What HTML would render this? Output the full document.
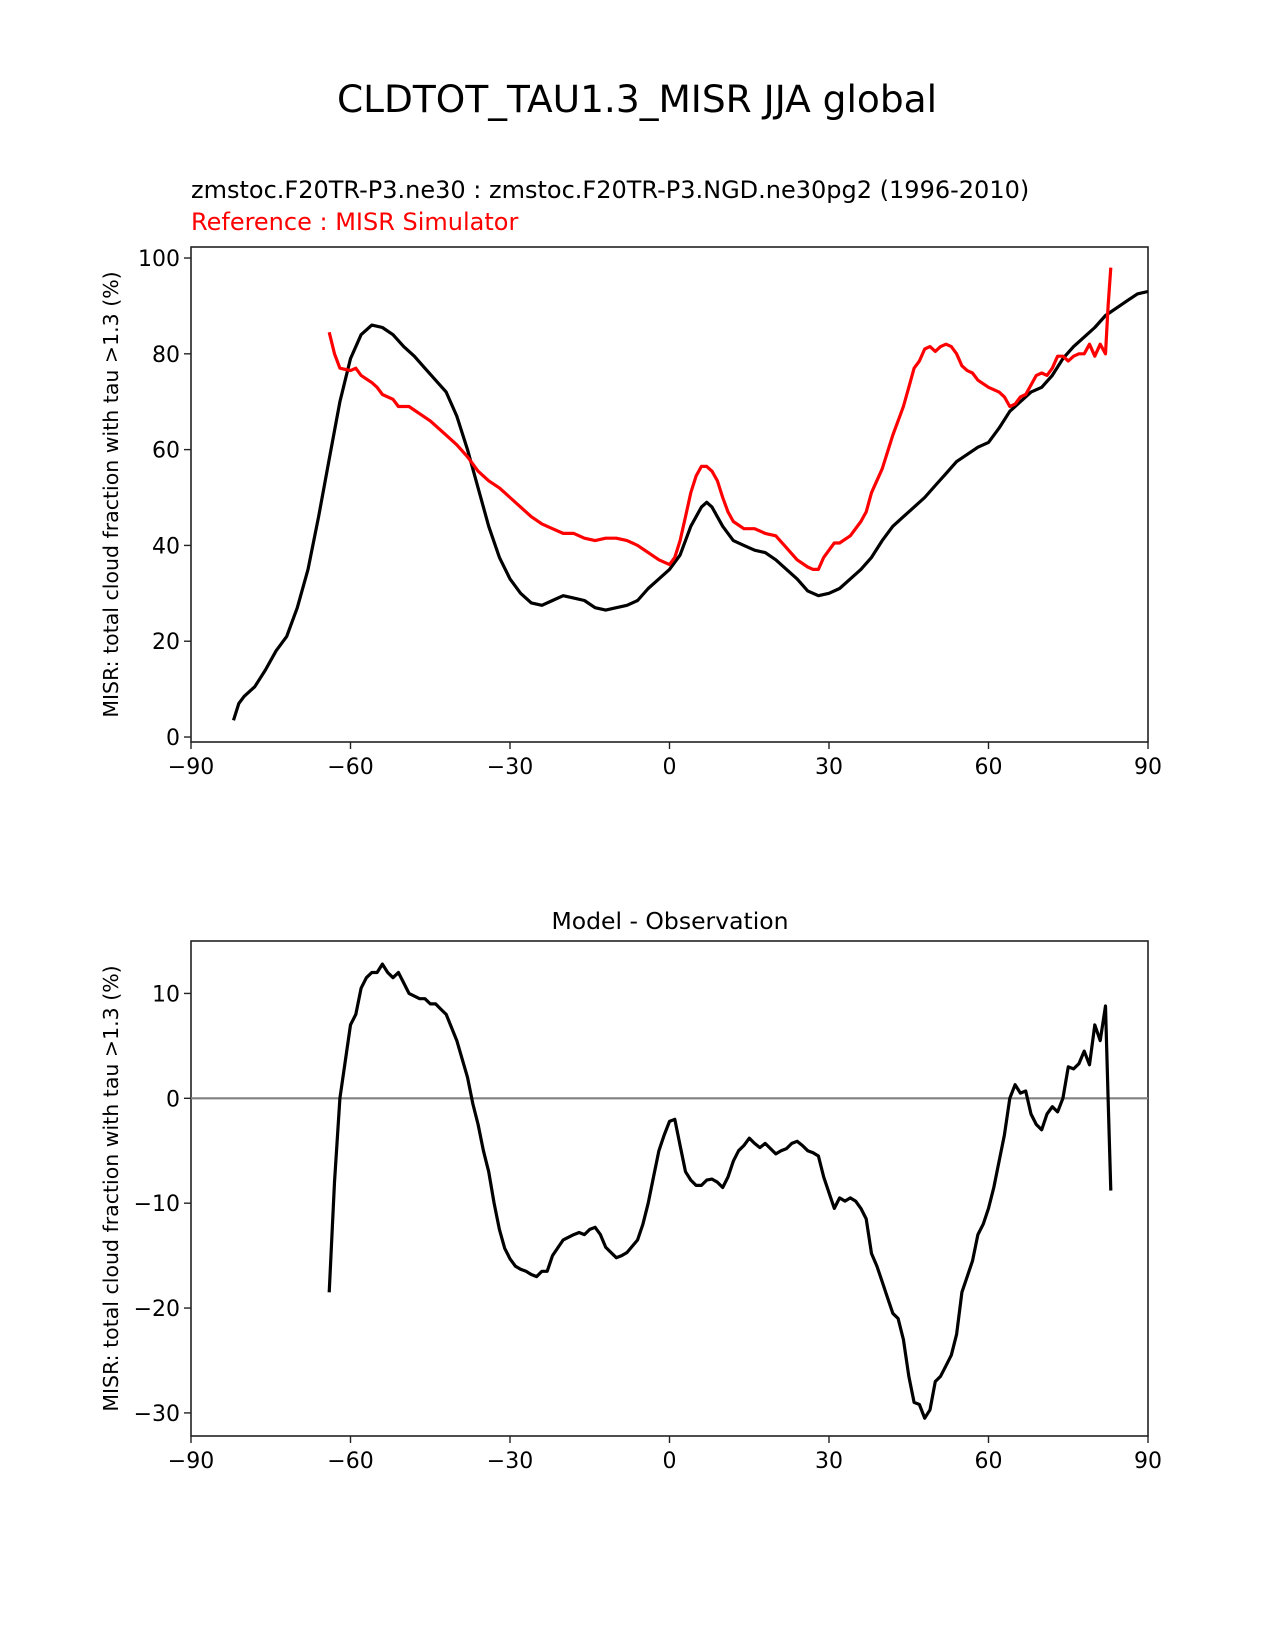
<!DOCTYPE html>
<html><head><meta charset="utf-8"><style>
body{margin:0;background:#fff}
svg{display:block;font-family:"DejaVu Sans","Liberation Sans",sans-serif}
</style></head><body>
<svg id="c" width="1275" height="1650" xmlns="http://www.w3.org/2000/svg">
<text x="637" y="112" font-size="37.5" text-anchor="middle">CLDTOT_TAU1.3_MISR JJA global</text>
<text x="191" y="198" font-size="24">zmstoc.F20TR-P3.ne30 : zmstoc.F20TR-P3.NGD.ne30pg2 (1996-2010)</text>
<text x="191" y="230" font-size="24" fill="red">Reference : MISR Simulator</text>
<text x="670" y="929" font-size="23.5" text-anchor="middle">Model - Observation</text>
<g id="g1"></g><g id="g2"></g>
</svg>
<script>
const latM=[-82,-81,-80,-78,-76,-74,-72,-70,-68,-66,-64,-62,-60,-58,-56,-54,-52,-50,-48,-46,-44,-42,-40,-38,-36,-34,-32,-30,-28,-26,-24,-22,-20,-18,-16,-14,-12,-10,-8,-6,-4,-2,0,2,4,6,7,8,10,12,14,16,18,20,22,24,26,28,30,32,34,36,38,40,42,44,46,48,50,52,54,56,58,60,62,64,66,68,70,72,74,76,78,80,82,84,86,88,90];
const valM=[3.5,7,8.5,10.5,14,18,21,27,35,46,58,70,79,84,86,85.5,84,81.5,79.5,77,74.5,72,67,60,52,44,37.5,33,30,28,27.5,28.5,29.5,29,28.5,27,26.5,27,27.5,28.5,31,33,35,38,44,48,49,48,44,41,40,39,38.5,37,35,33,30.5,29.5,30,31,33,35,37.5,41,44,46,48,50,52.5,55,57.5,59,60.5,61.5,64.5,68,70,72,73,75.5,79,81.5,83.5,85.5,88,89.5,91,92.5,93];
const latR=[-64,-63,-62,-60,-59,-58,-56,-55,-54,-52,-51,-49,-47,-45,-44,-42,-40,-38,-36,-34,-32,-30,-28,-26,-24,-22,-20,-18,-16,-14,-12,-10,-8,-6,-4,-2,0,1,2,3,4,5,6,7,8,9,10,11,12,14,16,18,20,22,24,26,27,28,29,30,31,32,34,36,37,38,40,42,44,45,46,47,48,49,50,51,52,53,54,55,56,57,58,60,61,62,63,64,65,66,67,68,69,70,71,72,73,74,75,76,77,78,79,80,81,82,82.5,83];
const valR=[84.5,80,77,76.5,77,75.5,74,73,71.5,70.5,69,69,67.5,66,65,63,61,58.5,55.5,53.5,52,50,48,46,44.5,43.5,42.5,42.5,41.5,41,41.5,41.5,41,40,38.5,37,36,37.5,41,46,51,54.5,56.5,56.5,55.5,53.5,50,47,45,43.5,43.5,42.5,42,39.5,37,35.5,35,35,37.5,39,40.5,40.5,42,45,47,51,56,63,69,73,77,78.5,81,81.5,80.5,81.5,82,81.5,80,77.5,76.5,76,74.5,73,72.5,72,71,69,69.5,71,71.5,73.5,75.5,76,75.5,77,79.5,79.5,78.5,79.5,80,80,82,79.5,82,80,90,98];
const latD=[-64,-63,-62,-61,-60,-59,-58,-57,-56,-55,-54,-53,-52,-51,-50,-49,-47,-46,-45,-44,-43,-42,-40,-38,-37,-36,-35,-34,-33,-32,-31,-30,-29,-28,-27,-26,-25,-24,-23,-22,-20,-18,-17,-16,-15,-14,-13,-12,-11,-10,-9,-8,-6,-5,-4,-3,-2,-1,0,1,2,3,4,5,6,7,8,9,10,11,12,13,14,15,16,17,18,19,20,21,22,23,24,25,26,27,28,29,30,31,32,33,34,35,36,37,38,39,40,41,42,43,44,45,46,47,48,49,50,51,52,53,54,55,56,57,58,59,60,61,62,63,64,65,66,67,68,69,70,71,72,73,74,75,76,77,78,79,80,81,82,82.5,83];
const valD=[-18.5,-8,0,3.5,7,8,10.5,11.5,12,12,12.8,12,11.5,12,11,10,9.5,9.5,9,9,8.5,8,5.5,2,-0.5,-2.5,-5,-7,-10,-12.5,-14.3,-15.3,-16,-16.3,-16.5,-16.8,-17,-16.5,-16.5,-15,-13.5,-13,-12.8,-13,-12.5,-12.3,-13,-14.2,-14.7,-15.2,-15,-14.7,-13.5,-12,-10,-7.5,-5,-3.5,-2.2,-2,-4.5,-7,-7.8,-8.3,-8.3,-7.8,-7.7,-8,-8.5,-7.5,-6,-5,-4.5,-3.8,-4.3,-4.7,-4.3,-4.8,-5.3,-5,-4.8,-4.3,-4.1,-4.5,-5,-5.2,-5.5,-7.5,-9,-10.5,-9.5,-9.8,-9.5,-9.8,-10.5,-11.5,-14.8,-16,-17.5,-19,-20.5,-21,-23,-26.5,-29,-29.2,-30.5,-29.7,-27,-26.5,-25.5,-24.5,-22.5,-18.5,-17,-15.5,-13,-12,-10.5,-8.5,-6,-3.5,0,1.3,0.5,0.7,-1.5,-2.5,-3,-1.5,-0.8,-1.3,0,3,2.8,3.3,4.5,3.2,7,5.5,8.8,0,-8.8];
const xTicks=[-90,-60,-30,0,30,60,90];
const yTicks1=[0,20,40,60,80,100];
const yTicks2=[-30,-20,-10,0,10];
const NS='http://www.w3.org/2000/svg';
function mk(p,t,a){const e=document.createElementNS(NS,t);for(const k in a)e.setAttribute(k,a[k]);p.appendChild(e);return e;}
function panel(g,L,R,T,B,ymin,ymax,yt,ylab){
 const sx=v=>L+(v+90)/180*(R-L), sy=v=>B-(v-ymin)/(ymax-ymin)*(B-T);
 const box=mk(g,'rect',{x:L,y:T,width:R-L,height:B-T,fill:'none',stroke:'#222','stroke-width':1.6});
 
 
 xTicks.forEach(v=>{mk(g,'line',{x1:sx(v),x2:sx(v),y1:B,y2:B+7,stroke:'#222','stroke-width':1.4});
  const t=mk(g,'text',{x:sx(v),y:B+32,'font-size':22,'text-anchor':'middle'});t.textContent=(v<0?'\u2212'+(-v):v);
  
  });
 yt.forEach(v=>{mk(g,'line',{x1:L-7,x2:L,y1:sy(v),y2:sy(v),stroke:'#222','stroke-width':1.4});
  const t=mk(g,'text',{x:L-11,y:sy(v)+8,'font-size':22,'text-anchor':'end'});t.textContent=(v<0?'\u2212'+(-v):v);
  
  });
 const yl=mk(g,'text',{x:0,y:0,'font-size':20.5,'text-anchor':'middle',transform:`translate(118,${(T+B)/2}) rotate(-90)`});
 yl.textContent=ylab;
 
 
 return {sx,sy};
}
function line(g,s,xs,ys,col,name){
 const d=xs.map((x,i)=>(i?'L':'M')+s.sx(x).toFixed(1)+','+s.sy(ys[i]).toFixed(1)).join('');
 const p=mk(g,'path',{d,fill:'none',stroke:col,'stroke-width':3.2,'stroke-linejoin':'round'});
 
 
}
const lab='MISR: total cloud fraction with tau >1.3 (%)';
const g1=document.getElementById('g1'),g2=document.getElementById('g2');
const s1=panel(g1,191,1148,247,742,-1.04,102.3,yTicks1,lab);
line(g1,s1,latM,valM,'#000','model-line');
line(g1,s1,latR,valR,'red','reference-line');
const s2=panel(g2,191,1148,941,1436,-32.2,15,yTicks2,lab);
const z=mk(g2,'line',{x1:191,x2:1148,y1:s2.sy(0),y2:s2.sy(0),stroke:'#808080','stroke-width':2.2});


line(g2,s2,latD,valD,'#000','difference-line');
</script>
</body></html>
